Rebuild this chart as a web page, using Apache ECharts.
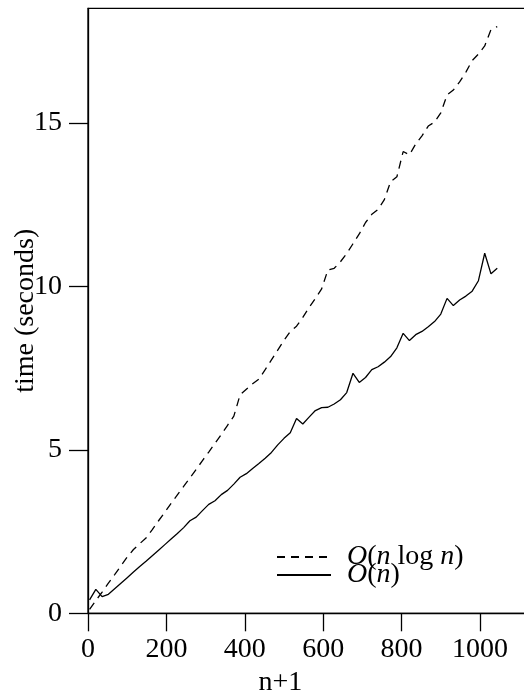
<!DOCTYPE html>
<html>
<head>
<meta charset="utf-8">
<script src="https://cdn.jsdelivr.net/npm/echarts@6/dist/echarts.min.js"></script>
<style>
  html, body { margin: 0; padding: 0; background: #fff; }
  #main { width: 524px; height: 695px; }
</style>
</head>
<body>
<div id="main"></div>
<script>
// n+1 sample positions
var nPlus1 = [4, 20, 36, 52, 68, 84, 100, 116, 132, 148,
  164, 180, 196, 212, 228, 244, 260, 276, 292, 308,
  324, 340, 356, 372, 388, 404, 420, 436, 452, 468,
  484, 500, 516, 532, 548, 564, 580, 596, 612, 628,
  644, 660, 676, 692, 708, 724, 740, 756, 772, 788,
  804, 820, 836, 852, 868, 884, 900, 916, 932, 948,
  964, 980, 996, 1012, 1028, 1044];

// O(n log n) timings (dashed)
var timeNLogN = [0.12, 0.39, 0.65, 0.92, 1.18, 1.45, 1.72, 1.95, 2.13, 2.30,
  2.56, 2.83, 3.09, 3.36, 3.62, 3.88, 4.14, 4.40, 4.67, 4.93,
  5.20, 5.47, 5.75, 6.03, 6.68, 6.85, 7.02, 7.16, 7.45, 7.75,
  8.05, 8.35, 8.62, 8.78, 9.05, 9.35, 9.63, 9.92, 10.50, 10.55,
  10.75, 11.00, 11.30, 11.60, 11.95, 12.20, 12.35, 12.65, 13.20, 13.35,
  14.12, 14.02, 14.35, 14.60, 14.90, 15.02, 15.30, 15.85, 16.00, 16.25,
  16.55, 16.90, 17.10, 17.35, 17.85, 17.94];

// O(n) timings (solid)
var timeN = [0.41, 0.73, 0.51, 0.58, 0.75, 0.92, 1.09, 1.26, 1.43, 1.59,
  1.76, 1.93, 2.10, 2.27, 2.44, 2.62, 2.83, 2.94, 3.14, 3.33,
  3.44, 3.63, 3.76, 3.95, 4.16, 4.27, 4.43, 4.58, 4.74, 4.92,
  5.15, 5.35, 5.52, 5.96, 5.79, 6.00, 6.20, 6.29, 6.30, 6.40,
  6.53, 6.75, 7.34, 7.06, 7.21, 7.45, 7.54, 7.68, 7.85, 8.12,
  8.56, 8.34, 8.52, 8.62, 8.76, 8.92, 9.15, 9.63, 9.41, 9.58,
  9.70, 9.85, 10.17, 11.01, 10.38, 10.55];

var seriesNames = ['O(n log n)', 'O(n)'];
var xTicks = [0, 200, 400, 600, 800, 1000];
var yTicks = [0, 5, 10, 15];

function pairs(xs, ys) {
  var out = [];
  for (var i = 0; i < xs.length; i++) out.push([xs[i], ys[i]]);
  return out;
}

var font = '"Liberation Serif", "DejaVu Serif", serif';
var fs = 28;

var myChart = echarts.init(document.getElementById('main'), null, { renderer: 'canvas' });

myChart.setOption({
  animation: false,
  backgroundColor: '#fff',
  textStyle: { fontFamily: font, color: '#000' },
  grid: {
    left: 88, top: 8.3, bottom: 81.7, right: -14.8,
    show: true, borderColor: '#000', borderWidth: 1.3,
    outerBoundsMode: 'none'
  },
  legend: {
    left: 276, top: 543, orient: 'vertical', padding: 0,
    itemWidth: 54, itemHeight: 10, itemGap: -10,
    data: seriesNames,
    itemStyle: { opacity: 0 },
    textStyle: {
      fontFamily: font, fontSize: fs, color: '#000', lineHeight: 19, padding: [0, 0, 0, 11],
      rich: { i: { fontFamily: font, fontSize: fs, fontStyle: 'italic', lineHeight: 19 } }
    },
    formatter: function (name) {
      if (name === seriesNames[0]) return '{i|O}({i|n} log {i|n})';
      return '{i|O}({i|n})';
    }
  },
  xAxis: {
    type: 'value', min: 0, max: 1150, interval: 200,
    name: 'n+1', nameLocation: 'middle', nameGap: 55, nameMoveOverlap: false,
    nameTextStyle: { fontFamily: font, fontSize: fs, color: '#000', padding: [0, 66, 0, 0] },
    axisLine: { show: true, lineStyle: { color: '#000', width: 1.3 } },
    axisTick: { show: true, length: 18, lineStyle: { color: '#000', width: 1.3 }, customValues: xTicks },
    axisLabel: {
      fontFamily: font, fontSize: fs, color: '#000', margin: 22, customValues: xTicks,
      formatter: function (v) { return String(v); }
    },
    splitLine: { show: false }
  },
  yAxis: {
    type: 'value', min: 0, max: 18.5, interval: 5,
    name: 'time (seconds)', nameLocation: 'middle', nameGap: 48, nameRotate: 90, nameMoveOverlap: false,
    nameTextStyle: { fontFamily: font, fontSize: fs, color: '#000' },
    axisLine: { show: true, lineStyle: { color: '#000', width: 1.3 } },
    axisTick: { show: true, length: 19, lineStyle: { color: '#000', width: 1.3 }, customValues: yTicks },
    axisLabel: {
      fontFamily: font, fontSize: fs, color: '#000', margin: 26, customValues: yTicks,
      formatter: function (v) { return String(v); }
    },
    splitLine: { show: false }
  },
  series: [
    {
      name: seriesNames[0], type: 'line', symbol: 'none',
      data: pairs(nPlus1, timeNLogN),
      lineStyle: { color: '#000', width: 1.3, type: [8, 6] },
      itemStyle: { color: '#000' }
    },
    {
      name: seriesNames[1], type: 'line', symbol: 'none',
      data: pairs(nPlus1, timeN),
      lineStyle: { color: '#000', width: 1.3, type: 'solid' },
      itemStyle: { color: '#000' }
    }
  ]
});
</script>
</body>
</html>
